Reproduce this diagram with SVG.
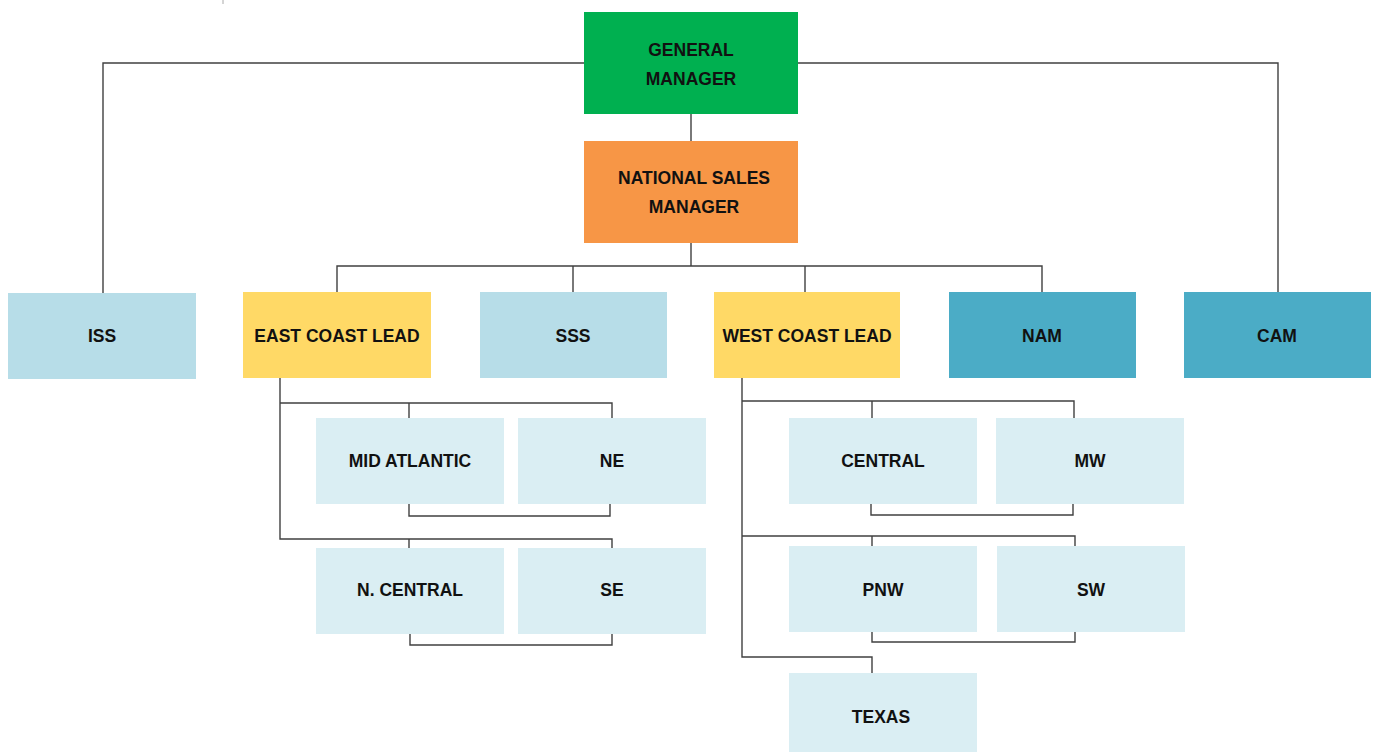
<svg xmlns="http://www.w3.org/2000/svg" width="1375" height="752" viewBox="0 0 1375 752">
<style>
.t{font-family:"Liberation Sans",Arial,sans-serif;font-weight:bold;font-size:17.5px;fill:#111;text-anchor:middle}
.c{fill:none;stroke:#404040;stroke-width:1.4}
.lb{fill:#b7dde8}
.sb{fill:#daeef3}
.y{fill:#ffd966}
.tl{fill:#4bacc6}
</style>
<rect width="1375" height="752" fill="#fff"/>
<line x1="223" y1="0" x2="223" y2="4" stroke="#aaa" stroke-width="1"/>
<g id="connectors">
<polyline class="c" points="584,63 103,63 103,293"/>
<polyline class="c" points="798,63 1278,63 1278,292"/>
<line class="c" x1="691" y1="114" x2="691" y2="141"/>
<line class="c" x1="691" y1="243" x2="691" y2="266"/>
<polyline class="c" points="337,292 337,266 1042,266 1042,292"/>
<line class="c" x1="573" y1="266" x2="573" y2="292"/>
<line class="c" x1="805" y1="266" x2="805" y2="292"/>
<polyline class="c" points="280,378 280,539 612,539 612,548"/>
<polyline class="c" points="280,403 612,403 612,418"/>
<line class="c" x1="409" y1="403" x2="409" y2="418"/>
<line class="c" x1="409" y1="539" x2="409" y2="548"/>
<polyline class="c" points="409,504 409,516 610,516 610,504"/>
<polyline class="c" points="410,634 410,645 612,645 612,634"/>
<polyline class="c" points="742,378 742,657 872,657 872,673"/>
<polyline class="c" points="742,401 1074,401 1074,418"/>
<line class="c" x1="872" y1="401" x2="872" y2="418"/>
<polyline class="c" points="871,504 871,515 1073,515 1073,504"/>
<polyline class="c" points="742,536 1075,536 1075,546"/>
<line class="c" x1="872" y1="536" x2="872" y2="546"/>
<polyline class="c" points="872,632 872,642 1075,642 1075,632"/>
</g>
<g id="gm"><rect x="584" y="12" width="214" height="102" fill="#00b050"/><text class="t" x="691" y="56">GENERAL</text><text class="t" x="691" y="85">MANAGER</text></g>
<g id="nsm"><rect x="584" y="141" width="214" height="102" fill="#f79646"/><text class="t" x="694" y="184">NATIONAL SALES</text><text class="t" x="694" y="213">MANAGER</text></g>
<g id="iss"><rect class="lb" x="8" y="293" width="188" height="86"/><text class="t" x="102" y="342">ISS</text></g>
<g id="ecl"><rect class="y" x="243" y="292" width="188" height="86"/><text class="t" x="337" y="342">EAST COAST LEAD</text></g>
<g id="sss"><rect class="lb" x="480" y="292" width="187" height="86"/><text class="t" x="573" y="342">SSS</text></g>
<g id="wcl"><rect class="y" x="714" y="292" width="186" height="86"/><text class="t" x="807" y="342">WEST COAST LEAD</text></g>
<g id="nam"><rect class="tl" x="949" y="292" width="187" height="86"/><text class="t" x="1042" y="342">NAM</text></g>
<g id="cam"><rect class="tl" x="1184" y="292" width="187" height="86"/><text class="t" x="1277" y="342">CAM</text></g>
<g id="midatl"><rect class="sb" x="316" y="418" width="188" height="86"/><text class="t" x="410" y="467">MID ATLANTIC</text></g>
<g id="ne"><rect class="sb" x="518" y="418" width="188" height="86"/><text class="t" x="612" y="467">NE</text></g>
<g id="ncentral"><rect class="sb" x="316" y="548" width="188" height="86"/><text class="t" x="410" y="596">N. CENTRAL</text></g>
<g id="se"><rect class="sb" x="518" y="548" width="188" height="86"/><text class="t" x="612" y="596">SE</text></g>
<g id="central"><rect class="sb" x="789" y="418" width="188" height="86"/><text class="t" x="883" y="467">CENTRAL</text></g>
<g id="mw"><rect class="sb" x="996" y="418" width="188" height="86"/><text class="t" x="1090" y="467">MW</text></g>
<g id="pnw"><rect class="sb" x="789" y="546" width="188" height="86"/><text class="t" x="883" y="596">PNW</text></g>
<g id="sw"><rect class="sb" x="997" y="546" width="188" height="86"/><text class="t" x="1091" y="596">SW</text></g>
<g id="texas"><rect class="sb" x="789" y="673" width="188" height="79"/><text class="t" x="881" y="723">TEXAS</text></g>
</svg>
